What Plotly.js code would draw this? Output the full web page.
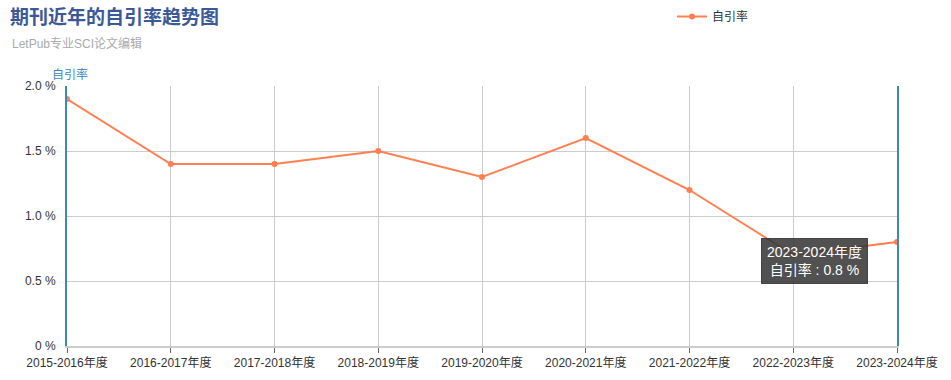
<!DOCTYPE html>
<html><head><meta charset="utf-8">
<script src="https://cdn.plot.ly/plotly-3.0.1.min.js"></script>
<style>body{margin:0;background:#fff}#c{width:951px;height:380px}</style>
</head><body><div id="c"></div>
<script>
const categories = ["2015-2016年度","2016-2017年度","2017-2018年度","2018-2019年度","2019-2020年度","2020-2021年度","2021-2022年度","2022-2023年度","2023-2024年度"];
const selfCiteRate = [1.9, 1.4, 1.4, 1.5, 1.3, 1.6, 1.2, 0.7, 0.8];
const yTickVals = [0, 0.5, 1.0, 1.5, 2.0];
const yTickText = ["0 %", "0.5 %", "1.0 %", "1.5 %", "2.0 %"];
const seriesName = "自引率";
const tipCategory = categories[8];
const tipValue = selfCiteRate[8];

const FONT = '"Liberation Sans","Noto Sans CJK SC",Arial,sans-serif';
const xIdx = categories.map((_, i) => i);

const trace = {
  type: 'scatter', mode: 'lines+markers', name: seriesName,
  x: xIdx, y: selfCiteRate,
  line: {color: '#ff7f50', width: 2},
  marker: {color: '#ff7f50', size: 6},
  hoverinfo: 'skip'
};

const layout = {
  width: 951, height: 380,
  margin: {l: 67, r: 54, t: 86, b: 34},
  paper_bgcolor: '#fff', plot_bgcolor: '#fff',
  font: {family: FONT, size: 12, color: '#333'},
  showlegend: true,
  legend: {orientation: 'h', xref: 'container', yref: 'container', x: 672/951, xanchor: 'left', y: 1 - 2/380, yanchor: 'top',
           font: {size: 12, color: '#333'}, bgcolor: 'rgba(0,0,0,0)'},
  title: {text: '期刊近年的自引率趋势图', xref: 'container', yref: 'container', x: 10/951, xanchor: 'left', y: 1 - 11/380, yanchor: 'top',
          font: {family: FONT, size: 19, color: '#3b5998', weight: 'bold'}},
  xaxis: {
    range: [0, categories.length - 1], tickvals: xIdx, ticktext: categories,
    showgrid: true, gridcolor: '#cccccc', gridwidth: 1,
    showline: true, linecolor: '#cccccc', linewidth: 2,
    ticks: 'outside', ticklen: 5, tickcolor: '#666', tickwidth: 1,
    tickfont: {size: 12, color: '#333'}, zeroline: false, fixedrange: true
  },
  yaxis: {
    range: [0, 2.0], tickvals: yTickVals, ticktext: yTickText,
    showgrid: true, gridcolor: '#cccccc', gridwidth: 1,
    showline: true, linecolor: '#3c87c0', linewidth: 2, mirror: true,
    ticks: '', ticklabelstandoff: 7,
    tickfont: {size: 12, color: '#333'}, zeroline: false, fixedrange: true
  },
  annotations: [
    {text: 'LetPub专业SCI论文编辑', xref: 'paper', yref: 'paper', x: -0.0687, y: 1.165,
     xanchor: 'left', yanchor: 'middle', showarrow: false, font: {size: 12, color: '#aaaaaa'}},
    {text: seriesName, xref: 'paper', yref: 'paper', x: -0.021, y: 1.046,
     xanchor: 'left', yanchor: 'middle', showarrow: false, font: {size: 12, color: '#3c87c0'}},
    {text: tipCategory + '<br>' + seriesName + ' : ' + tipValue.toFixed(1) + ' %',
     x: 7, y: 0.655, xref: 'x', yref: 'y', xshift: 21, showarrow: false,
     bgcolor: 'rgba(50,50,50,0.85)', bordercolor: 'rgba(50,50,50,0.85)', borderwidth: 1, borderpad: 5,
     font: {size: 14, color: '#fff'}, align: 'center'}
  ]
};

Plotly.newPlot('c', [trace], layout, {displayModeBar: false, staticPlot: true});
</script></body></html>
